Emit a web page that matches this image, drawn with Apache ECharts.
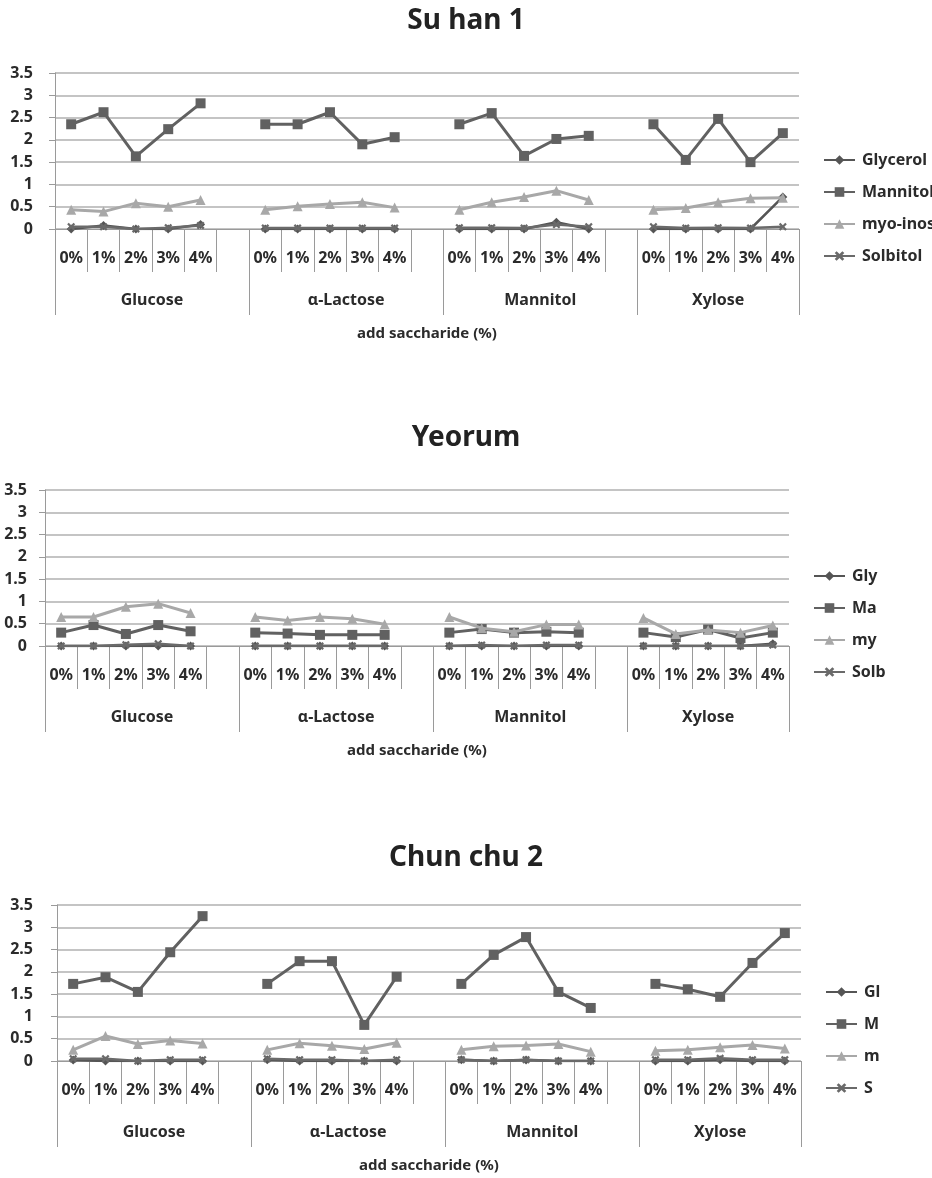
<!DOCTYPE html>
<html><head><meta charset="utf-8">
<script src="https://cdn.jsdelivr.net/npm/echarts@6/dist/echarts.min.js"></script>
<style>html,body{margin:0;padding:0;background:#fff}#c{width:932px;height:1178px}</style>
</head><body><div id="c"></div>
<script>
const pctLabels = ['0%', '1%', '2%', '3%', '4%'];
const groups = ['Glucose', 'α-Lactose', 'Mannitol', 'Xylose'];
const seriesNames = ['Glycerol', 'Mannitol', 'myo-inositol', 'Solbitol'];
const yTickLabels = ['0', '0.5', '1', '1.5', '2', '2.5', '3', '3.5'];
const panelTitles = ['Su han 1', 'Yeorum', 'Chun chu 2'];
const axisTitle = 'add saccharide (%)';

// Su han 1 (Glucose 0-4%, α-Lactose 0-4%, Mannitol 0-4%, Xylose 0-4%)
const suhanGlycerol = [0, 0.08, 0, 0, 0.1, 0, 0, 0, 0, 0, 0, 0, 0, 0.15, 0, 0, 0, 0, 0, 0.72];
const suhanMannitol = [2.35, 2.62, 1.63, 2.24, 2.82, 2.35, 2.35, 2.62, 1.9, 2.06, 2.35, 2.6, 1.64, 2.02, 2.09, 2.35, 1.55, 2.47, 1.5, 2.15];
const suhanMyo = [0.43, 0.39, 0.58, 0.5, 0.65, 0.43, 0.51, 0.56, 0.6, 0.48, 0.43, 0.6, 0.72, 0.86, 0.65, 0.43, 0.47, 0.6, 0.69, 0.7];
const suhanSolbitol = [0.05, 0.05, 0, 0.03, 0.08, 0.02, 0.02, 0.02, 0.02, 0.02, 0.03, 0.03, 0.02, 0.1, 0.05, 0.05, 0.02, 0.03, 0.02, 0.05];

// Yeorum
const yeorumGlycerol = [0, 0, 0, 0, 0, 0, 0, 0, 0, 0, 0, 0, 0, 0, 0, 0, 0, 0, 0, 0.05];
const yeorumMannitol = [0.3, 0.47, 0.27, 0.47, 0.33, 0.3, 0.28, 0.25, 0.25, 0.25, 0.3, 0.38, 0.3, 0.32, 0.3, 0.3, 0.2, 0.37, 0.18, 0.3];
const yeorumMyo = [0.65, 0.65, 0.88, 0.95, 0.74, 0.65, 0.57, 0.65, 0.61, 0.49, 0.65, 0.4, 0.32, 0.48, 0.48, 0.63, 0.27, 0.36, 0.3, 0.46];
const yeorumSolbitol = [0, 0, 0.03, 0.05, 0, 0, 0, 0, 0, 0, 0, 0.02, 0, 0.02, 0.02, 0, 0, 0, 0, 0.02];

// Chun chu 2
const chunchuGlycerol = [0.02, 0, 0, 0, 0, 0.03, 0, 0, 0, 0, 0.03, 0, 0.02, 0, 0, 0, 0, 0.03, 0, 0];
const chunchuMannitol = [1.73, 1.88, 1.55, 2.44, 3.25, 1.73, 2.24, 2.24, 0.81, 1.89, 1.73, 2.38, 2.78, 1.55, 1.19, 1.73, 1.61, 1.44, 2.2, 2.87];
const chunchuMyo = [0.25, 0.56, 0.38, 0.46, 0.39, 0.25, 0.4, 0.34, 0.27, 0.41, 0.25, 0.33, 0.35, 0.38, 0.21, 0.23, 0.25, 0.31, 0.36, 0.28];
const chunchuSolbitol = [0.05, 0.05, 0, 0.03, 0.03, 0.05, 0.03, 0.03, 0, 0.03, 0.03, 0, 0.03, 0, 0, 0.03, 0.03, 0.06, 0.03, 0.03];

const panels = [
  [suhanGlycerol, suhanMannitol, suhanMyo, suhanSolbitol],
  [yeorumGlycerol, yeorumMannitol, yeorumMyo, yeorumSolbitol],
  [chunchuGlycerol, chunchuMannitol, chunchuMyo, chunchuSolbitol]
];

// ---- layout ----
const layout = [
  { left: 55, right: 133, top: 73, titleTop: 2, legendLeft: 823, legendTop: 152, legendTextW: 76, yMargin: 22 },
  { left: 45, right: 143, top: 490, titleTop: 419, legendLeft: 813, legendTop: 568, legendTextW: 35, yMargin: 18 },
  { left: 57, right: 131, top: 905, titleTop: 839, legendLeft: 825, legendTop: 984, legendTextW: 18, yMargin: 24 }
];
const plotH = 156;
const FONT = '"Noto Sans", "Open Sans", sans-serif';
const axisColor = '#9a9a9a';
const gridColor = '#b0b0b0';
const textColor = '#2b2b2b';

const styles = [
  { color: '#555555', symbol: 'diamond', size: 9, width: 2.5 },
  { color: '#616161', symbol: 'rect', size: 10, width: 3 },
  { color: '#a8a8a8', symbol: 'triangle', size: 10, width: 3 },
  { color: '#6a6a6a', symbol: 'path://M0,2L2,0L5,3L8,0L10,2L7,5L10,8L8,10L5,7L2,10L0,8L3,5Z', size: 8, width: 2.5 }
];

function expand(vals) {
  const out = [];
  vals.forEach((v, i) => { out.push(v); if (i % 5 === 4 && i < 15) out.push(null); });
  return out;
}
const xLabels = [];
groups.forEach((g, gi) => { pctLabels.forEach(p => xLabels.push(p)); if (gi < groups.length - 1) xLabels.push(''); });
const nCat = xLabels.length; // 23
const groupStart = groups.map((g, gi) => gi * 6);
const groupPos = groups.map((g, gi) => gi * 6 + (gi < groups.length - 1 ? 3 : 2.5));

const option = { animation: false, backgroundColor: '#fff', title: [], grid: [], xAxis: [], yAxis: [], legend: [], series: [] };

layout.forEach((L, p) => {
  option.title.push({ text: panelTitles[p], left: 'center', top: L.titleTop,
    textStyle: { fontFamily: FONT, fontSize: 28, fontWeight: 'bold', color: '#222' } });
  option.grid.push({ left: L.left, right: L.right, top: L.top, height: plotH, containLabel: false });
  // percent labels + short ticks
  option.xAxis.push({ type: 'category', gridIndex: p, position: 'bottom', data: xLabels, boundaryGap: true,
    axisLine: { show: true, onZero: false, lineStyle: { color: axisColor, width: 1 } },
    axisTick: { show: true, interval: 0, length: 43, lineStyle: { color: axisColor, width: 1 } },
    axisLabel: { interval: 0, margin: 21, fontFamily: FONT, fontSize: 16, fontWeight: 'bold', color: textColor },
    splitLine: { show: false },
    name: axisTitle, nameLocation: 'middle', nameGap: 97,
    nameTextStyle: { fontFamily: FONT, fontSize: 15, fontWeight: 'bold', color: textColor } });
  // long group-boundary ticks
  option.xAxis.push({ type: 'category', gridIndex: p, position: 'bottom', data: xLabels, boundaryGap: true,
    axisLine: { show: false },
    axisTick: { show: true, length: 86, interval: (i) => groupStart.indexOf(i) >= 0, lineStyle: { color: axisColor, width: 1 } },
    axisLabel: { show: false }, splitLine: { show: false } });
  // group names
  option.xAxis.push({ type: 'value', gridIndex: p, position: 'bottom', min: 0, max: nCat, interval: 0.5,
    axisLine: { show: false }, axisTick: { show: false }, splitLine: { show: false },
    axisLabel: { show: true, margin: 63, fontFamily: FONT, fontSize: 16, fontWeight: 'bold', color: textColor,
      formatter: (v) => { const k = groupPos.findIndex(q => Math.abs(q - v) < 1e-6); return k >= 0 ? groups[k] : ''; } } });
  option.yAxis.push({ type: 'value', gridIndex: p, min: 0, max: 3.5, interval: 0.5,
    axisLine: { show: true, lineStyle: { color: axisColor, width: 1 } },
    axisTick: { show: true, length: 6, lineStyle: { color: axisColor } },
    splitLine: { show: true, lineStyle: { color: gridColor, width: 1.5 } },
    axisLabel: { margin: L.yMargin, fontFamily: FONT, fontSize: 16, fontWeight: 'bold', color: textColor,
      formatter: (v) => yTickLabels[Math.round(v / 0.5)] } });
  option.legend.push({ orient: 'vertical', left: L.legendLeft, top: L.legendTop, padding: 0,
    itemWidth: 31, itemHeight: 12, itemGap: 16, data: seriesNames,
    textStyle: { fontFamily: FONT, fontSize: 16, fontWeight: 'bold', color: textColor,
      width: L.legendTextW, overflow: 'truncate', ellipsis: '', padding: [0, 0, 0, 2] } });
  panels[p].forEach((vals, s) => {
    const st = styles[s];
    option.series.push({ type: 'line', name: seriesNames[s], xAxisIndex: p * 3, yAxisIndex: p,
      data: expand(vals), connectNulls: false, symbol: st.symbol, symbolSize: st.size, showSymbol: true,
      lineStyle: { color: st.color, width: st.width }, itemStyle: { color: st.color },
      emphasis: { disabled: true }, z: 2 + s });
  });
});

const chart = echarts.init(document.getElementById('c'), null, { renderer: 'canvas' });
chart.setOption(option);
</script></body></html>
